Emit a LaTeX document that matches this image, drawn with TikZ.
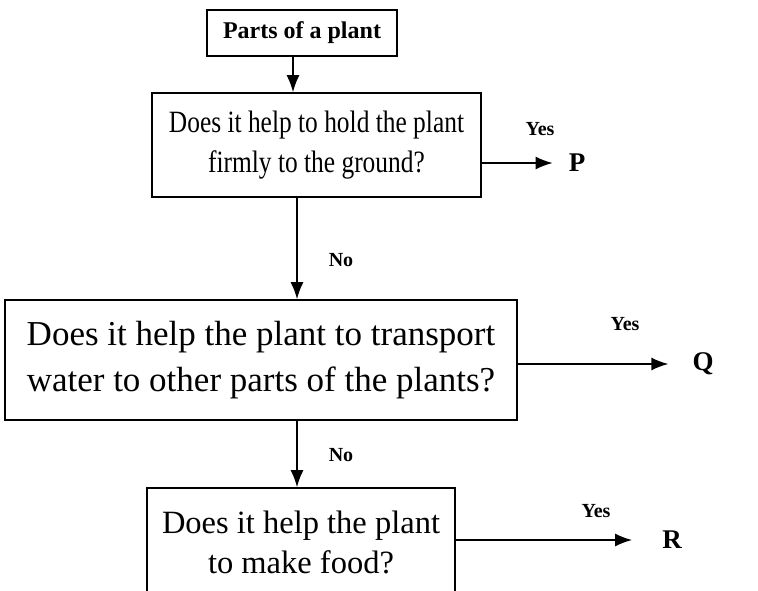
\documentclass[tikz,border=0pt]{standalone}
\usepackage{fontspec}
\setmainfont{Liberation Serif}
\newfontfamily\narrowserif[FakeStretch=0.82]{Liberation Serif}
\usetikzlibrary{arrows.meta}
\begin{document}
\begin{tikzpicture}[x=1pt,y=-1pt,line width=1.6pt]
	\useasboundingbox (0,0) rectangle (758,591) ;
	\node[draw,rectangle,minimum width=190pt,minimum height=46pt,font=\fontsize{24}{28}\selectfont\bfseries] (Parts) at (302,33) {Parts of a plant} ;
	\node[draw,rectangle,minimum width=329pt,minimum height=104pt,align=center,font=\narrowserif\fontsize{31}{40}\selectfont] (Hold) at (316.5,145) {Does it help to hold the plant\\firmly to the ground?} ;
	\node[draw,rectangle,minimum width=512pt,minimum height=120pt,align=center,font=\fontsize{35}{46}\selectfont] (Transport) at (261,360) {Does it help the plant to transport\\water to other parts of the plants?} ;
	\node[draw,rectangle,minimum width=308pt,minimum height=108pt,align=center,font=\fontsize{32.5}{40}\selectfont] (Food) at (301,542) {Does it help the plant\\to make food?} ;
	\node[font=\fontsize{27}{30}\selectfont\bfseries] (P) at (577,163) {P} ;
	\node[font=\fontsize{27}{30}\selectfont\bfseries] (Q) at (703,364) {Q} ;
	\node[font=\fontsize{27}{30}\selectfont\bfseries] (R) at (672,540) {R} ;
	\node[font=\fontsize{20}{22}\selectfont\bfseries] (Yes1) at (540,129) {Yes} ;
	\node[font=\fontsize{20}{22}\selectfont\bfseries] (Yes2) at (625,324) {Yes} ;
	\node[font=\fontsize{20}{22}\selectfont\bfseries] (Yes3) at (596,511) {Yes} ;
	\node[font=\fontsize{20}{22}\selectfont\bfseries] (No1) at (341,260) {No} ;
	\node[font=\fontsize{20}{22}\selectfont\bfseries] (No2) at (341,455) {No} ;
	\draw[->,>={Latex[length=17pt,width=13pt]}] ([xshift=-9pt]Parts.south) -- ([xshift=-9pt]Parts.south |- Hold.north) ;
	\draw[->,>={Latex[length=17pt,width=13pt]}] ([xshift=-19.5pt]Hold.south) -- ([xshift=-19.5pt]Hold.south |- Transport.north) ;
	\draw[->,>={Latex[length=17pt,width=13pt]}] ([xshift=36pt]Transport.south) -- ([xshift=36pt]Transport.south |- Food.north) ;
	\draw[->,>={Latex[length=17pt,width=13pt]}] (Hold.east |- P) -- ([xshift=-12pt]P.west) ;
	\draw[->,>={Latex[length=17pt,width=13pt]}] (Transport.east |- Q) -- ([xshift=-20pt]Q.west) ;
	\draw[->,>={Latex[length=17pt,width=13pt]}] (Food.east |- R) -- ([xshift=-26pt]R.west) ;
\end{tikzpicture}
\end{document}
